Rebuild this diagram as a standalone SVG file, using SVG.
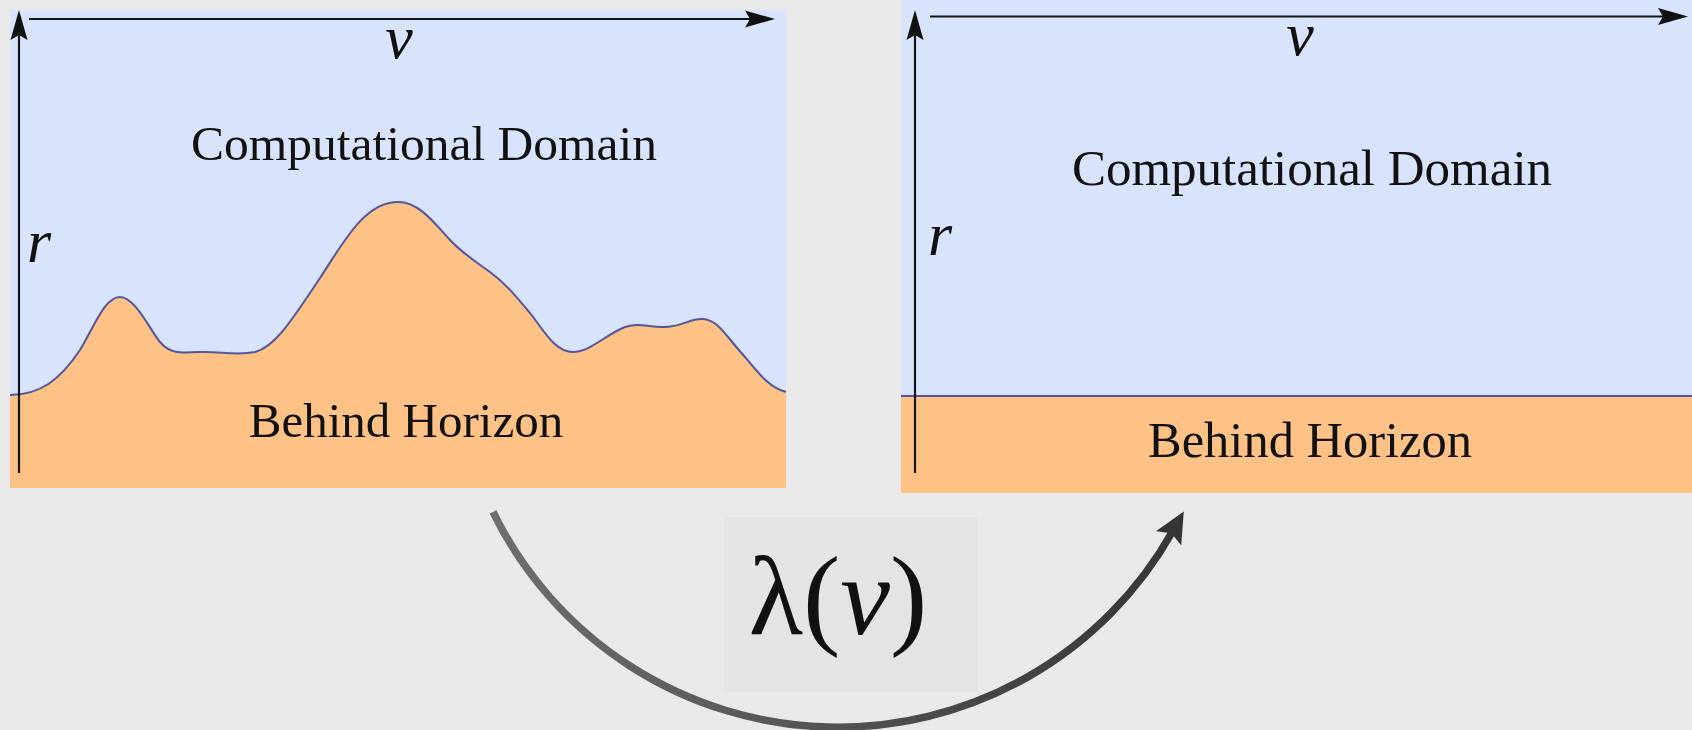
<svg xmlns="http://www.w3.org/2000/svg" width="1692" height="730" viewBox="0 0 1692 730">
  <style>
    .sky { fill: #d8e3fd; }
    .ground { fill: #fec286; }
    .horizon { fill: none; stroke: #55559c; stroke-width: 2; }
    .axis { fill: none; stroke: #151515; stroke-width: 2.2; }
    .label { font-family: "Liberation Serif", "Times New Roman", serif; fill: #111; }
    .var { font-family: "Liberation Serif", "Times New Roman", serif; font-style: italic; font-size: 62px; fill: #111; }
  </style>
  <defs>
    <marker id="axhead" markerUnits="userSpaceOnUse" viewBox="-30 -12 40 24" refX="0" refY="0" markerWidth="40" markerHeight="24" orient="auto" overflow="visible">
      <path d="M6,0 L-24,-8.5 L-19,0 L-24,8.5 Z" fill="#111"/>
    </marker>
    <marker id="archead" markerUnits="userSpaceOnUse" viewBox="-12 -18 40 36" refX="0" refY="0" markerWidth="40" markerHeight="36" orient="auto" overflow="visible">
      <path d="M23,0 L-8,-14.5 L-2,0 L-8,14.5 Z" fill="#353535"/>
    </marker>
    <linearGradient id="arcgrad" gradientUnits="userSpaceOnUse" x1="493" y1="0" x2="1183" y2="0">
      <stop offset="0" stop-color="#6e6e6e"/>
      <stop offset="1" stop-color="#363636"/>
    </linearGradient>
  </defs>

  <rect x="0" y="0" width="1692" height="730" fill="#e8e9e8"/>

  <g id="left-panel">
    <rect class="sky" x="10" y="10" width="776" height="478"/>
    <path class="ground" d="M10,395 C40,395 60,380 80,350 C95,325 105,297 120,297 C135,297 150,330 160,342 C170,354 180,353 200,352 C220,351 235,356 255,352 C275,347 292,320 320,278 C345,240 365,202 398,202 C418,202 432,220 450,240 C462,253 475,261 490,272 C505,283 515,295 530,313 C545,332 555,352 573,352 C590,352 605,335 625,327 C640,322 650,328 665,327 C685,326 690,318 703,319 C718,320 725,335 745,357 C760,375 770,388 786,392 L786,488 L10,488 Z"/>
    <path class="horizon" d="M10,395 C40,395 60,380 80,350 C95,325 105,297 120,297 C135,297 150,330 160,342 C170,354 180,353 200,352 C220,351 235,356 255,352 C275,347 292,320 320,278 C345,240 365,202 398,202 C418,202 432,220 450,240 C462,253 475,261 490,272 C505,283 515,295 530,313 C545,332 555,352 573,352 C590,352 605,335 625,327 C640,322 650,328 665,327 C685,326 690,318 703,319 C718,320 725,335 745,357 C760,375 770,388 786,392"/>
    <line class="axis" x1="19" y1="473" x2="19" y2="16" marker-end="url(#axhead)"/>
    <line class="axis" x1="29" y1="19" x2="769" y2="19" marker-end="url(#axhead)"/>
    <text class="var" x="399" y="58" text-anchor="middle">v</text>
    <text class="var" x="27" y="262">r</text>
    <text class="label" x="424" y="160" font-size="49.5" text-anchor="middle">Computational Domain</text>
    <text class="label" x="406" y="437" font-size="49" text-anchor="middle">Behind Horizon</text>
  </g>

  <g id="right-panel">
    <rect class="sky" x="901" y="0" width="791" height="396"/>
    <rect class="ground" x="901" y="396" width="791" height="97"/>
    <line class="horizon" x1="901" y1="396" x2="1692" y2="396"/>
    <line class="axis" x1="915" y1="473" x2="915" y2="16" marker-end="url(#axhead)"/>
    <line class="axis" x1="930" y1="16.5" x2="1682" y2="16.5" marker-end="url(#axhead)"/>
    <text class="var" x="1300" y="55" text-anchor="middle">v</text>
    <text class="var" x="928" y="255">r</text>
    <text class="label" x="1312" y="185" font-size="51" text-anchor="middle">Computational Domain</text>
    <text class="label" x="1310" y="457" font-size="50.5" text-anchor="middle">Behind Horizon</text>
  </g>

  <g id="connectors">
    <path d="M493,512 A384,384 0 0 0 1172.5,531.5" fill="none" stroke="url(#arcgrad)" stroke-width="7.5" marker-end="url(#archead)"/>
  </g>

  <g id="mapping-label">
    <rect x="724" y="517" width="254" height="175" fill="#e4e4e4"/>
    <text class="label" x="838" y="634" font-size="112" text-anchor="middle">λ(<tspan font-style="italic">v</tspan>)</text>
  </g>
</svg>
